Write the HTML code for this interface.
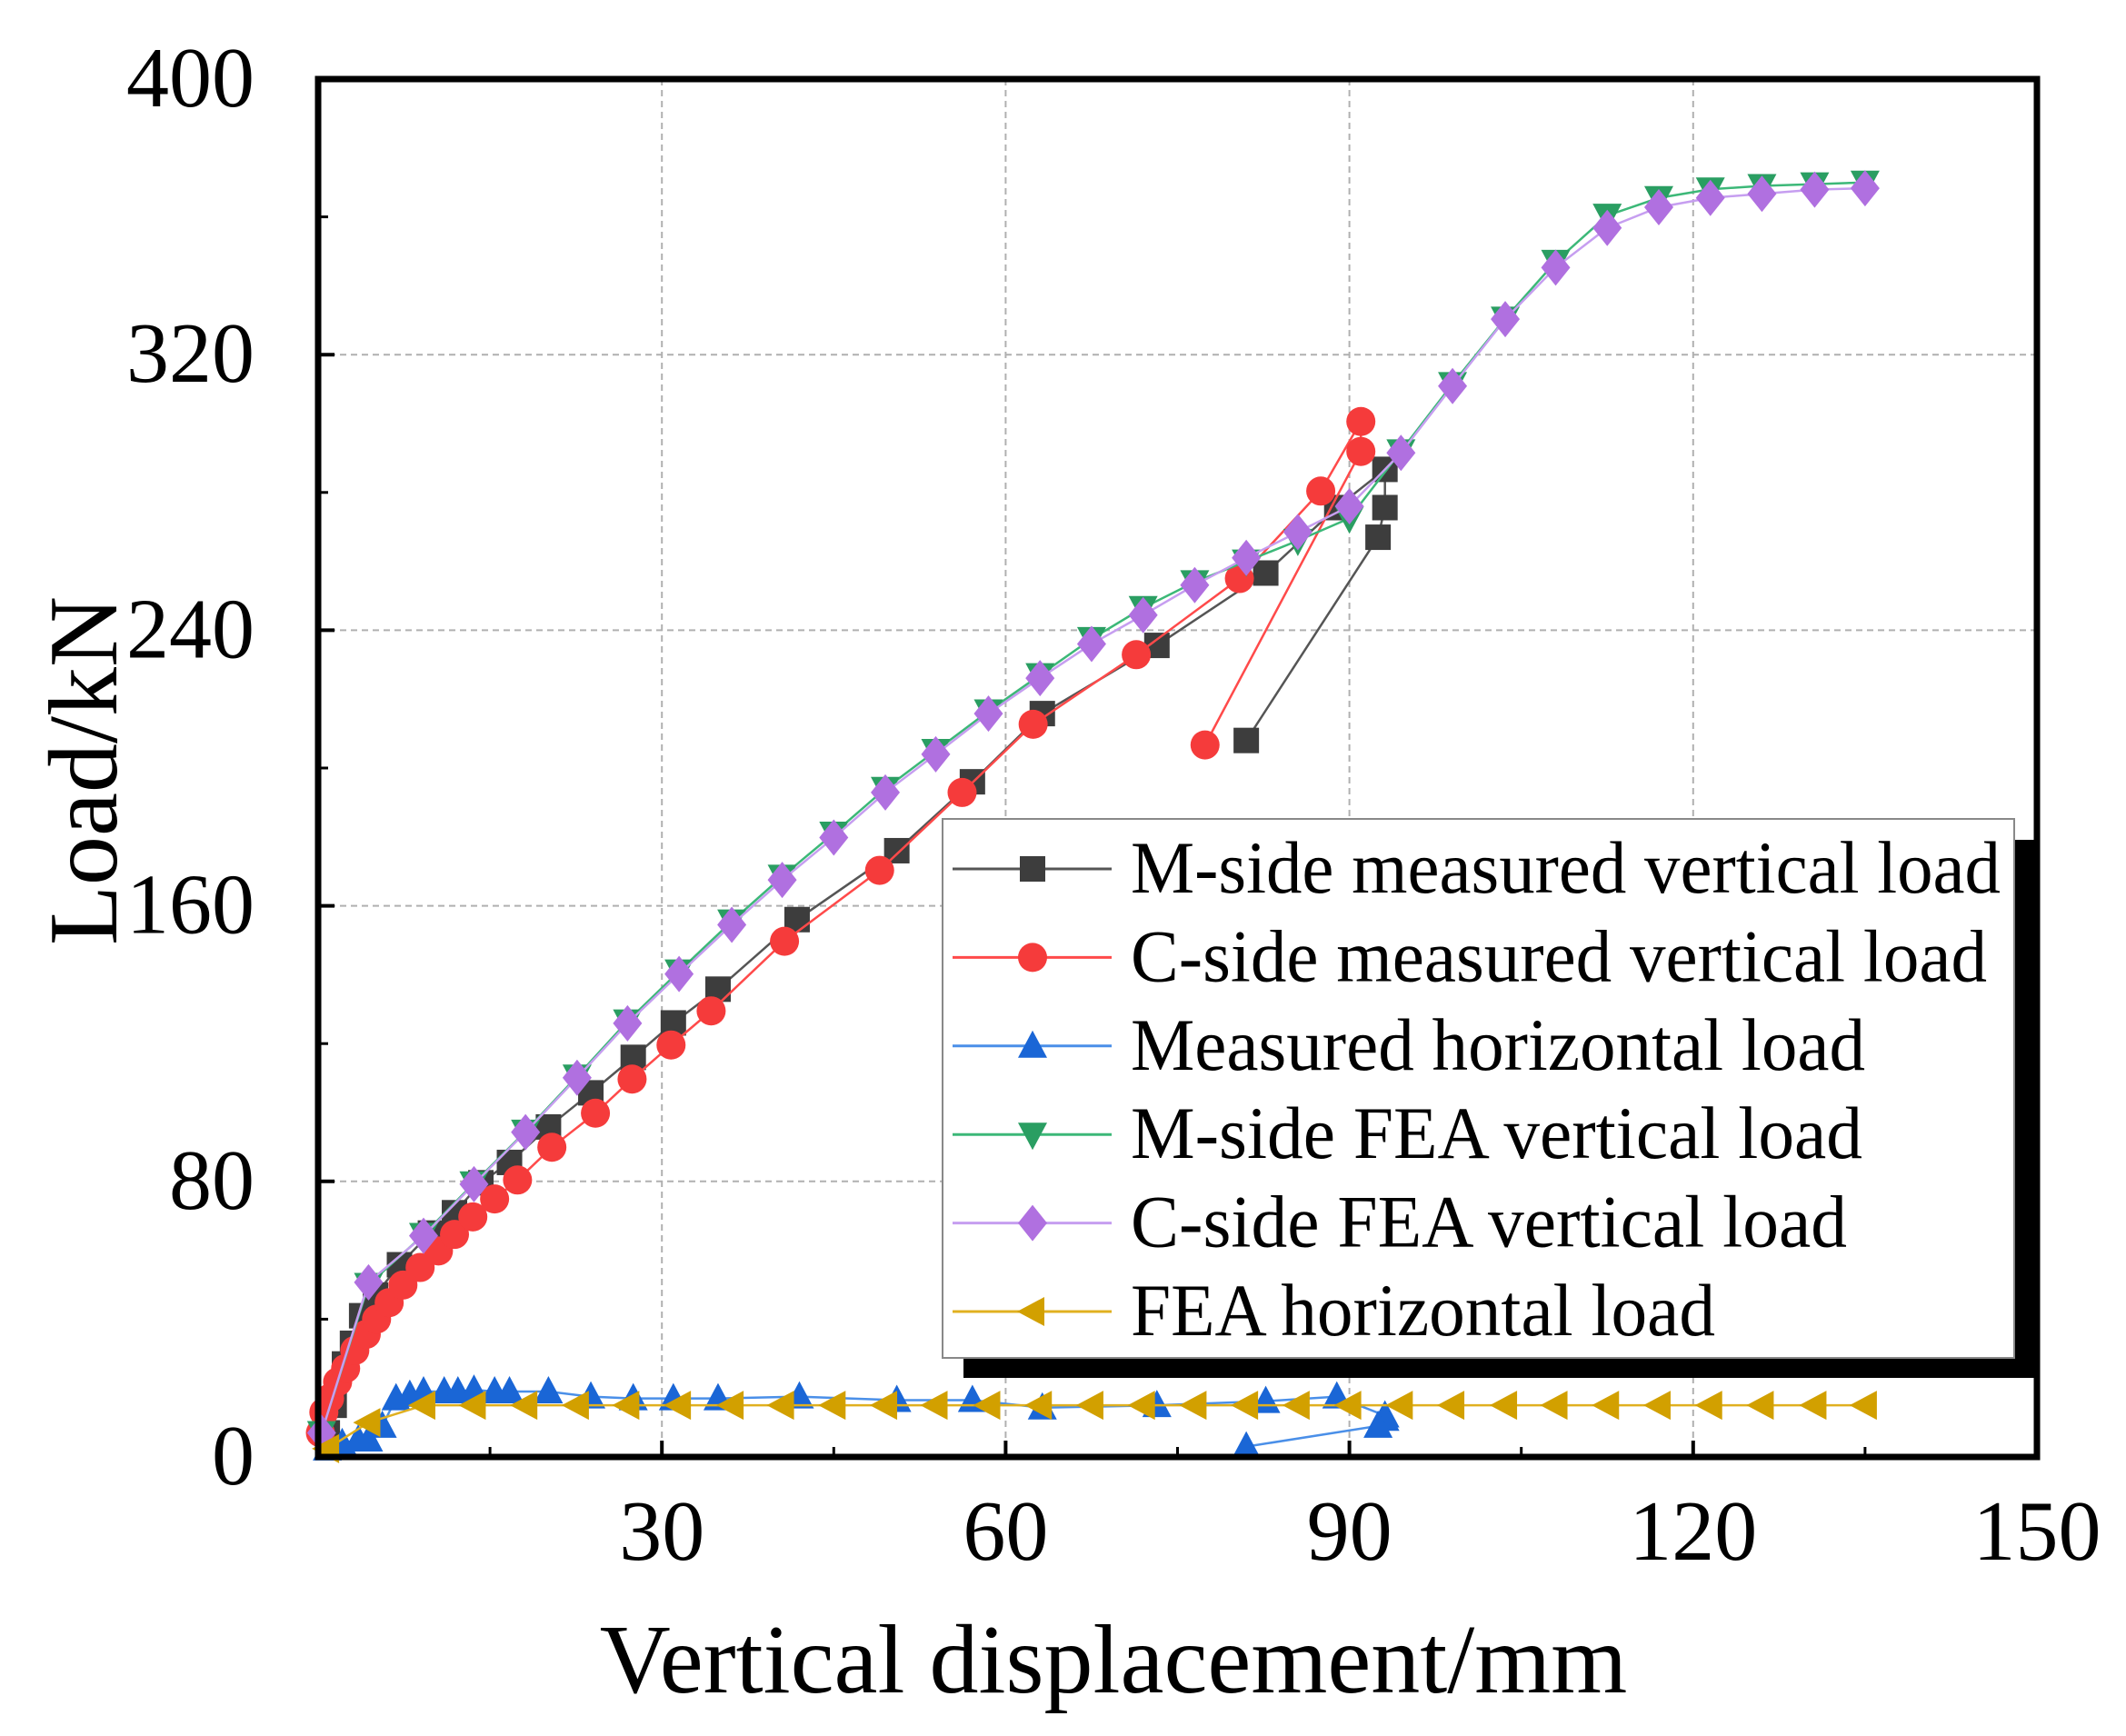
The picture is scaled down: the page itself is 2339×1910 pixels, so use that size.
<!DOCTYPE html>
<html><head><meta charset="utf-8"><style>
html,body{margin:0;padding:0;background:#fff}
svg{display:block}
text{font-family:"Liberation Serif",serif;fill:#000}
</style></head><body>
<svg id="chart" width="2339" height="1910" viewBox="0 0 2339 1910" xmlns="http://www.w3.org/2000/svg">
<g id="grid"></g>
<g id="series"></g>
<rect x="350" y="87" width="1891" height="1516" fill="none" stroke="#000" stroke-width="7"/>
<g id="axes"></g>
<text x="1225" y="1862" font-size="108" text-anchor="middle">Vertical displacement/mm</text>
<text transform="translate(128,848) rotate(-90)" font-size="108" text-anchor="middle">Load/kN</text>
<g id="legend">
<rect x="1060" y="924" width="1178" height="592" fill="#000"/>
<rect x="1037" y="901" width="1179" height="593" fill="#fff" stroke="#888" stroke-width="2"/>
</g>
</svg>
<script>
const xTicks=[30,60,90,120,150];
const yTicks=[0,80,160,240,320,400];
const mX=[0.8,1.4,2.3,3,3.8,5,7.1,9.8,11.9,14.2,16.7,20.1,23.8,27.5,31,34.9,41.8,50.5,57.1,63.2,73.2,82.7,88.9,93.1,93.1,92.5,81];
const mY=[7,15,27,33,41,47,55.8,65,70.9,79.6,85.5,95.8,105.7,116,126,135.8,156,176,196,215.8,235.6,256.6,275.6,286.7,275.6,267,208];
const cX=[0.2,0.5,1,1.7,2.4,3.2,4.2,5.1,6.2,7.4,8.9,10.5,11.9,13.5,15.4,17.4,20.4,24.2,27.4,30.8,34.3,40.7,49,56.2,62.4,71.4,80.4,87.5,91,91,77.4];
const cY=[7,13,17,21.8,25.7,30.9,35.6,40,44.8,49.9,55,59.8,64.6,69.7,74.9,80.4,89.9,99.8,109.7,119.6,129.5,149.7,170.3,192.9,212.7,232.9,255,280.4,300.6,291.9,206.7];
const hX=[0.8,2.1,3.5,4.4,5.6,6.8,8,9.2,11,12.2,13.6,15.4,16.7,20.1,23.8,27.5,31,34.9,42,50.5,57.1,63.2,73.2,82.7,88.9,93.1,93.1,92.5,81];
const hY=[2.4,4,5,5,9,17,18,19,19,19,19.5,19,19,19,17.5,17,17,17,17.5,16.5,16.5,14.3,15,16.2,17.5,12,11,9,3];
const fX=[0.3,4.4,9.2,13.6,18.1,22.6,27,31.5,36.1,40.5,45,49.5,53.9,58.5,63,67.5,72,76.5,81,85.5,90,94.5,99,103.6,108,112.5,117,121.5,126,130.6,135];
const gY=[7,50,64.5,79.5,94.5,110.5,126.5,141,155.5,168.5,181,194,205,216.5,227,237.5,246.5,254,260,266,272.5,292,311.5,330.5,347,360.4,365.5,368,369,369.5,370];
const pY=[7,50.7,64.2,79.2,94.3,110.1,125.9,140.2,154.5,167.5,179.8,192.9,204,215.8,226.1,236,244.4,253.1,261,268.5,276,291.5,310.9,330.3,345.3,356.8,362.8,365.5,366.7,367.9,368.3];
const kX=[0.8,4.4,9.2,13.6,18.1,22.6,27,31.5,36.1,40.5,45,49.5,53.9,58.5,63,67.5,72,76.5,81,85.5,90,94.5,99,103.6,108,112.5,117,121.5,126,130.6,135];
const kY=[2.4,10,15,15,15,15,15,15,15,15,15,15,15,15,15,15,15,15,15,15,15,15,15,15,15,15,15,15,15,15,15];
const legendLabels=["M-side measured vertical load","C-side measured vertical load","Measured horizontal load","M-side FEA vertical load","C-side FEA vertical load","FEA horizontal load"];
const legendWidths=[957,942,808,805,788,643];

const NS="http://www.w3.org/2000/svg";
const X=v=>350+v*1891/150;
const Y=v=>1603-v*1516/400;
function mk(parent,tag,attrs){const e=document.createElementNS(NS,tag);for(const k in attrs)e.setAttribute(k,attrs[k]);parent.appendChild(e);return e;}
const grid=document.getElementById('grid'),axes=document.getElementById('axes'),ser=document.getElementById('series'),leg=document.getElementById('legend');
xTicks.forEach(t=>{
  if(t<150){const l=mk(grid,'line',{x1:X(t),x2:X(t),y1:87,y2:1603,stroke:'#b0b0b0','stroke-width':2,'stroke-dasharray':'7,5'});
  
  
  const tk=mk(axes,'line',{x1:X(t),x2:X(t),y1:1603,y2:1585,stroke:'#000','stroke-width':4});
  
  }
  const tx=mk(axes,'text',{x:X(t),y:1716,'font-size':94,'text-anchor':'middle'});tx.textContent=t;
  
  
});
for(let t=15;t<150;t+=30){const tk=mk(axes,'line',{x1:X(t),x2:X(t),y1:1603,y2:1592,stroke:'#000','stroke-width':3});
  
  }
yTicks.forEach(t=>{
  if(t>0&&t<400){const l=mk(grid,'line',{x1:350,x2:2241,y1:Y(t),y2:Y(t),stroke:'#b0b0b0','stroke-width':2,'stroke-dasharray':'7,5'});
  
  }
  const tk=mk(axes,'line',{x1:350,x2:368,y1:Y(t),y2:Y(t),stroke:'#000','stroke-width':4});
  
  
  const tx=mk(axes,'text',{x:280,y:Y(t)+30,'font-size':94,'text-anchor':'end'});tx.textContent=t;
  
  
});
for(let t=40;t<400;t+=80){const tk=mk(axes,'line',{x1:350,x2:361,y1:Y(t),y2:Y(t),stroke:'#000','stroke-width':3});
  
  }

function marker(g,shape,x,y,fill){
  let e;
  if(shape==='square')e=mk(g,'rect',{x:x-14,y:y-14,width:28,height:28,fill:fill});
  else if(shape==='circle')e=mk(g,'circle',{cx:x,cy:y,r:16,fill:fill});
  else if(shape==='up')e=mk(g,'polygon',{points:`${x},${y-17} ${x+16},${y+13} ${x-16},${y+13}`,fill:fill});
  else if(shape==='down')e=mk(g,'polygon',{points:`${x},${y+17} ${x+16},${y-13} ${x-16},${y-13}`,fill:fill});
  else if(shape==='diamond')e=mk(g,'polygon',{points:`${x},${y-20} ${x+16},${y} ${x},${y+20} ${x-16},${y}`,fill:fill});
  else e=mk(g,'polygon',{points:`${x-17},${y} ${x+13},${y-16} ${x+13},${y+16}`,fill:fill});
  return e;
}
const defs=[
 {xs:mX,ys:mY,shape:'square',fill:'#3d3d3d',line:'#555',name:'m-side-measured'},
 {xs:cX,ys:cY,shape:'circle',fill:'#f53b3b',line:'#ff4a4a',name:'c-side-measured'},
 {xs:hX,ys:hY,shape:'up',fill:'#1a66d6',line:'#4a8fe8',name:'measured-horizontal'},
 {xs:fX,ys:gY,shape:'down',fill:'#2a9e62',line:'#3cb878',name:'m-side-fea'},
 {xs:fX,ys:pY,shape:'diamond',fill:'#b070e0',line:'#c69ef0',name:'c-side-fea'},
 {xs:kX,ys:kY,shape:'left',fill:'#d2a000',line:'#e0b020',name:'fea-horizontal'}
];
defs.forEach((d,i)=>{
  const g=mk(ser,'g',{});
  
  
  const pl=mk(g,'polyline',{points:d.xs.map((x,j)=>X(x)+','+Y(d.ys[j])).join(' '),fill:'none',stroke:d.line,'stroke-width':2.5});
  
  
  d.xs.forEach((x,j)=>{const m=marker(g,d.shape,X(x),Y(d.ys[j]),d.fill);
    
    });
  const ly=956+i*97.4;
  const lg=mk(leg,'g',{});
  
  
  mk(lg,'line',{x1:1048,x2:1223,y1:ly,y2:ly,stroke:d.line,'stroke-width':3});
  marker(lg,d.shape,1136,ly,d.fill);
  const t=mk(lg,'text',{x:1244,y:ly+26,'font-size':82,textLength:legendWidths[i],lengthAdjust:'spacingAndGlyphs'});t.textContent=legendLabels[i];
  
  
});
</script>
</body></html>
